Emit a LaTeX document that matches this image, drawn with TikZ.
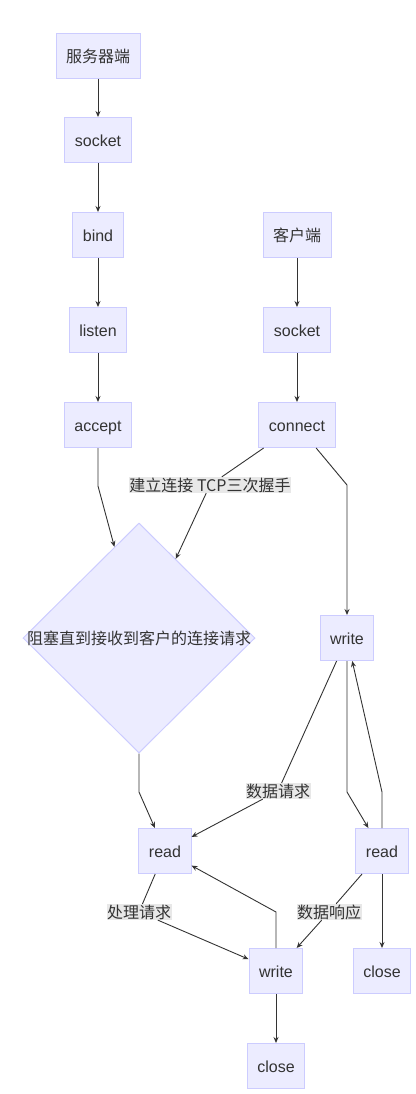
\documentclass[tikz,border=0pt]{standalone}
\usepackage{fontspec}
\setmainfont{Liberation Sans}
\newfontfamily\cjk{Noto Sans CJK SC}
\usetikzlibrary{arrows.meta,positioning,shapes.geometric}
\definecolor{boxfill}{HTML}{ECECFF}
\definecolor{boxline}{HTML}{CCCCFF}
\definecolor{ink}{HTML}{333333}
\definecolor{lblbg}{HTML}{E8E8E8}
\tikzset{
  step box/.style={rectangle, fill=boxfill, draw=boxline, line width=1pt, inner xsep=10pt,
    minimum height=45pt, text height=16pt, text depth=3pt, text=ink,
    font=\fontsize{16}{19}\selectfont},
  decide/.style={diamond, aspect=1, fill=boxfill, draw=boxline, line width=1pt, inner sep=0pt,
    minimum width=232pt, minimum height=230pt, text=ink, font=\cjk\fontsize{16}{19}\selectfont},
  elabel/.style={fill=lblbg, inner sep=0.5pt, text=ink, font=\cjk\fontsize{16}{19}\selectfont},
  link/.style={-{Stealth[length=6pt,width=5pt]}, draw=ink, line width=0.9pt},
  plain/.style={draw=ink, line width=0.9pt},
}
\begin{document}
\begin{tikzpicture}[x=1pt, y=-1pt]
  \useasboundingbox (0,0) rectangle (415,1094);
  % server side
  \node[step box, font=\cjk\fontsize{16}{19}\selectfont] (srv) at (98,56) {服务器端};
  \node[step box] (ssock) at (98,140) {socket};
  \node[step box] (sbind) at (98,235) {bind};
  \node[step box] (slis) at (98,330) {listen};
  \node[step box] (sacc) at (98,425) {accept};
  % client side
  \node[step box, font=\cjk\fontsize{16}{19}\selectfont] (cli) at (297,235) {客户端};
  \node[step box] (csock) at (297,330) {socket};
  \node[step box] (ccon) at (297,425) {connect};
  \node[decide] (dec) at (139,638) {\makebox[0pt]{阻塞直到接收到客户的连接请求}};
  \node[step box] (cwr) at (347,638) {write};
  \node[step box] (srd) at (165,851) {read};
  \node[step box] (crd) at (382,851) {read};
  \node[step box] (swr) at (276,971) {write};
  \node[step box] (ccl) at (382,971) {close};
  \node[step box] (scl) at (276,1066) {close};
  % edge labels
  \node[elabel] (lbltcp) at (210,485) {建立连接 TCP三次握手};
  \node[elabel] (lblreq) at (278,791) {数据请求};
  \node[elabel] (lblproc) at (139,912) {处理请求};
  \node[elabel] (lblresp) at (329,912) {数据响应};
  % straight runs
  \draw[link] (srv) -- (ssock);
  \draw[link] (ssock) -- (sbind);
  \draw[link] (sbind) -- (slis);
  \draw[link] (slis) -- (sacc);
  \draw[link] (cli) -- (csock);
  \draw[link] (csock) -- (ccon);
  \draw[link] (crd) -- (ccl);
  \draw[link] (swr) -- (scl);
  % bent runs
  \draw[link] (sacc) -- (98,486) -- (dec);
  \draw[plain] (ccon) -- (lbltcp);
  \draw[link] (lbltcp) -- (dec);
  \draw[link] (ccon) -- (347,485) -- (cwr);
  \draw[link] (dec) -- (139,792) -- (srd);
  \draw[plain] (cwr) -- (lblreq);
  \draw[link] (lblreq) -- (srd);
  \draw[link] (cwr) -- (347,792) -- (crd);
  \draw[link] (crd) -- (382,792) -- (cwr);
  \draw[plain] (srd) -- (lblproc);
  \draw[link] (lblproc) -- (swr);
  \draw[link] (swr) -- (276,912) -- (srd);
  \draw[plain] (crd) -- (lblresp);
  \draw[link] (lblresp) -- (swr);
\end{tikzpicture}
\end{document}
